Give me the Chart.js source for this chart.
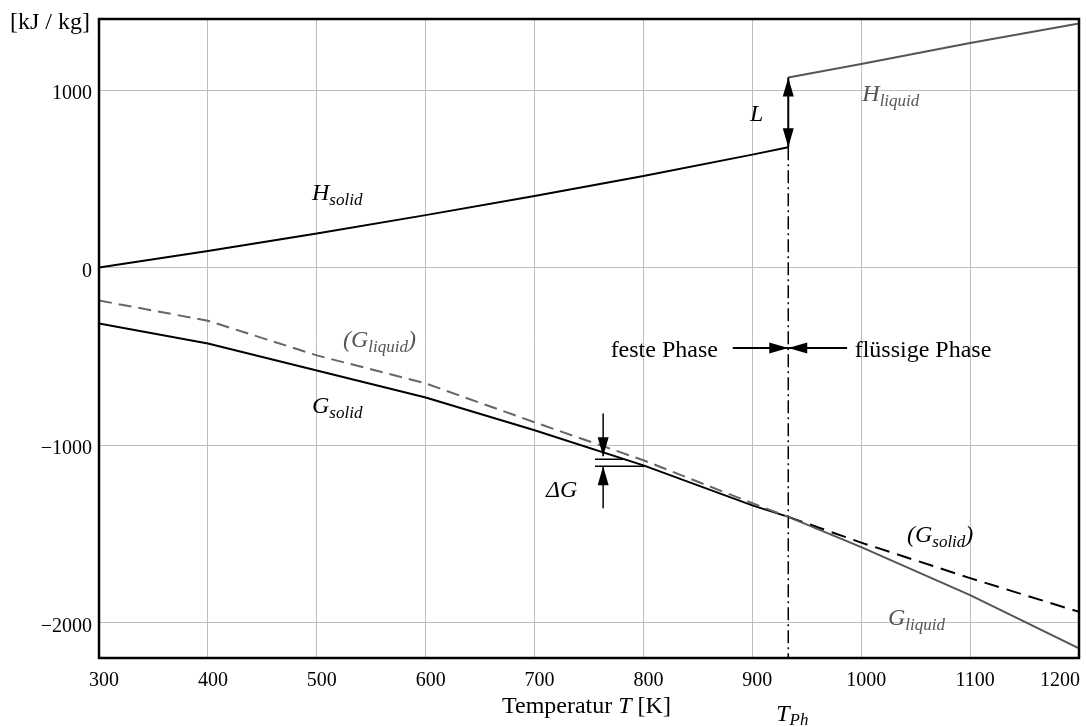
<!DOCTYPE html>
<html>
<head>
<meta charset="utf-8">
<script src="https://cdn.jsdelivr.net/npm/chart.js@4.4.1/dist/chart.umd.min.js"></script>
<style>
  html, body { margin: 0; padding: 0; background: #fff; }
  #wrap { width: 1086px; height: 727px; }
</style>
</head>
<body>
<div id="wrap"><canvas id="c" width="1086" height="727"></canvas></div>
<script>
// ---- data ----
const T_SOLID        = [300, 400, 500, 600, 700, 800, 900, 933];
const H_SOLID        = [0, 93, 192, 295, 403, 516, 636, 677];
const G_SOLID        = [-315, -428, -580, -732, -917, -1115, -1340, -1405];
const G_LIQUID_SUB   = [-186, -300, -495, -653, -872, -1086, -1328, -1405];
const T_LIQUID       = [933, 1000, 1100, 1200];
const H_LIQUID       = [1071, 1146, 1265, 1375];
const G_LIQUID       = [-1405, -1575, -1846, -2145];
const G_SOLID_SUPER  = [-1405, -1550, -1750, -1940];
const T_PH           = 933;
const X_TICKS        = [300, 400, 500, 600, 700, 800, 900, 1000, 1100, 1200];
const Y_TICKS        = [-2000, -1000, 0, 1000];
const X_MIN = 300, X_MAX = 1200, Y_MIN = -2200, Y_MAX = 1400;

const GRAY = '#555555';
const FONT = '"Liberation Serif", "Times New Roman", serif';

function pts(xs, ys) { return xs.map((x, i) => ({ x: x, y: ys[i] })); }

function rich(ctx, x, y, parts, align) {
  let total = 0;
  parts.forEach(p => {
    ctx.font = (p.italic ? 'italic ' : '') + p.size + 'px ' + FONT;
    p.w = ctx.measureText(p.t).width;
    total += p.w;
  });
  if (align === 'right') x -= total;
  if (align === 'center') x -= total / 2;
  ctx.textAlign = 'left';
  ctx.textBaseline = 'alphabetic';
  parts.forEach(p => {
    ctx.font = (p.italic ? 'italic ' : '') + p.size + 'px ' + FONT;
    ctx.fillText(p.t, x, y + (p.dy || 0));
    x += p.w;
  });
}
function sym(main, sub, color, pre, post) {
  const a = [];
  if (pre) a.push({ t: pre, size: 24, italic: true });
  a.push({ t: main, size: 24, italic: true });
  a.push({ t: sub, size: 17, italic: true, dy: 5 });
  if (post) a.push({ t: post, size: 24, italic: true });
  return a;
}
function arrowHead(ctx, tx, ty, dx, dy, len, w) {
  const n = Math.hypot(dx, dy); dx /= n; dy /= n;
  const bx = tx - dx * len, by = ty - dy * len;
  ctx.beginPath();
  ctx.moveTo(tx, ty);
  ctx.lineTo(bx - dy * w / 2, by + dx * w / 2);
  ctx.lineTo(bx + dy * w / 2, by - dx * w / 2);
  ctx.closePath();
  ctx.fill();
}
function arrow(ctx, x1, y1, x2, y2, both) {
  ctx.beginPath(); ctx.moveTo(x1, y1); ctx.lineTo(x2, y2); ctx.stroke();
  arrowHead(ctx, x2, y2, x2 - x1, y2 - y1, 19, 11);
  if (both) arrowHead(ctx, x1, y1, x1 - x2, y1 - y2, 19, 11);
}

const annotations = {
  id: 'annotations',
  afterDatasetsDraw(chart) {
    const ctx = chart.ctx;
    const xs = chart.scales.x, ys = chart.scales.y;
    const X = v => xs.getPixelForValue(v), Y = v => ys.getPixelForValue(v);
    ctx.save();
    ctx.fillStyle = '#000'; ctx.strokeStyle = '#000'; ctx.lineWidth = 2;

    // latent heat arrow L
    const hs = H_SOLID[H_SOLID.length - 1], hl = H_LIQUID[0];
    arrow(ctx, X(T_PH), Y(hs), X(T_PH), Y(hl), true);

    // phase arrows
    const yPh = Y(-453);
    arrow(ctx, X(882), yPh, X(T_PH), yPh, false);
    arrow(ctx, X(987), yPh, X(T_PH), yPh, false);

    // Delta G marks
    ctx.lineWidth = 1.5;
    arrow(ctx, X(763), Y(-822), X(763), Y(-1064), false);
    arrow(ctx, X(763), Y(-1356), X(763), Y(-1120), false);
    ctx.beginPath();
    ctx.moveTo(X(755.5), Y(-1080)); ctx.lineTo(X(781), Y(-1080));
    ctx.moveTo(X(755.5), Y(-1120)); ctx.lineTo(X(801), Y(-1120));
    ctx.stroke();

    // labels
    ctx.fillStyle = '#000';
    rich(ctx, X(495.6), Y(383), sym('H', 'solid'));
    rich(ctx, X(897.8), Y(827), [{ t: 'L', size: 24, italic: true }]);
    rich(ctx, X(495.6), Y(-822), sym('G', 'solid'));
    rich(ctx, X(1042), Y(-1548), sym('G', 'solid', null, '(', ')'));
    rich(ctx, X(710.5), Y(-1294), [{ t: '\u0394G', size: 24, italic: true }]);
    rich(ctx, X(868.4), Y(-506), [{ t: 'feste Phase', size: 24 }], 'right');
    rich(ctx, X(994), Y(-506), [{ t: 'fl\u00fcssige Phase', size: 24 }]);
    ctx.fillStyle = GRAY;
    rich(ctx, X(1001), Y(940), sym('H', 'liquid'));
    rich(ctx, X(524), Y(-450), sym('G', 'liquid', null, '(', ')'));
    rich(ctx, X(1024.5), Y(-2015), sym('G', 'liquid'));
    ctx.restore();
  },
  afterDraw(chart) {
    const ctx = chart.ctx, a = chart.chartArea;
    const xs = chart.scales.x;
    ctx.save();
    ctx.strokeStyle = '#000'; ctx.lineWidth = 2.5;
    ctx.strokeRect(a.left, a.top, a.right - a.left, a.bottom - a.top);
    ctx.fillStyle = '#000';
    // x tick labels
    ctx.font = '20px ' + FONT;
    ctx.textBaseline = 'alphabetic';
    X_TICKS.forEach((v, i) => {
      const px = xs.getPixelForValue(v);
      if (i === X_TICKS.length - 1) { ctx.textAlign = 'right'; ctx.fillText(String(v), px + 1, 686); }
      else { ctx.textAlign = 'center'; ctx.fillText(String(v), px + 5, 686); }
    });
    // axis titles
    rich(ctx, 10, 29, [{ t: '[kJ / kg]', size: 24 }]);
    rich(ctx, 502, 713, [{ t: 'Temperatur ', size: 24 }, { t: 'T', size: 24, italic: true }, { t: ' [K]', size: 24 }]);
    rich(ctx, xs.getPixelForValue(T_PH) - 12, 721, [{ t: 'T', size: 24, italic: true }, { t: 'Ph', size: 17, italic: true, dy: 4 }]);
    ctx.restore();
  }
};

const line = (data, color, width, dash) => ({
  data: data, borderColor: color, borderWidth: width, borderDash: dash || [],
  pointRadius: 0, tension: 0, fill: false
});

new Chart(document.getElementById('c'), {
  type: 'line',
  data: {
    datasets: [
      line(pts(T_SOLID, H_SOLID), '#000', 2),
      line(pts(T_LIQUID, H_LIQUID), GRAY, 2),
      line(pts(T_SOLID, G_LIQUID_SUB), '#666', 2, [13, 7]),
      line(pts(T_SOLID, G_SOLID), '#000', 2),
      line(pts(T_LIQUID, G_LIQUID), GRAY, 2),
      line(pts(T_LIQUID, G_SOLID_SUPER), '#000', 2, [15, 8]),
      line([{ x: T_PH, y: H_SOLID[H_SOLID.length - 1] }, { x: T_PH, y: Y_MIN }], '#000', 1.5, [13, 4, 2, 4])
    ]
  },
  options: {
    responsive: false,
    devicePixelRatio: 1,
    animation: false,
    events: [],
    layout: { padding: { left: 0, right: 7, top: 18, bottom: 0 } },
    plugins: { legend: { display: false }, tooltip: { enabled: false }, title: { display: false } },
    scales: {
      x: {
        type: 'linear', min: X_MIN, max: X_MAX,
        afterBuildTicks: s => { s.ticks = X_TICKS.map(v => ({ value: v })); },
        afterFit: s => { s.height = 69; },
        ticks: { display: false },
        grid: { color: '#bdbdbd', lineWidth: 1, drawTicks: false },
        border: { display: false }
      },
      y: {
        type: 'linear', min: Y_MIN, max: Y_MAX,
        afterBuildTicks: s => { s.ticks = Y_TICKS.map(v => ({ value: v })); },
        afterFit: s => { s.width = 99; },
        ticks: {
          color: '#000', padding: 7, labelOffset: 4,
          font: { family: FONT, size: 20 },
          callback: v => (v < 0 ? '\u2212' + Math.abs(v) : String(v))
        },
        grid: { color: '#bdbdbd', lineWidth: 1, drawTicks: false },
        border: { display: false }
      }
    }
  },
  plugins: [annotations]
});
</script>
</body>
</html>
